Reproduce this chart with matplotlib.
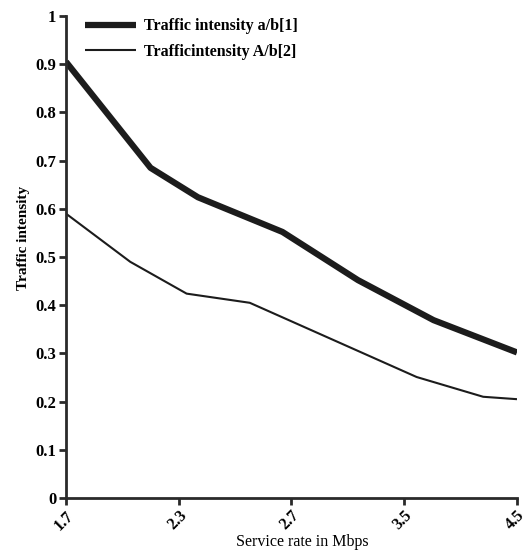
import matplotlib
matplotlib.use("Agg")
import matplotlib.pyplot as plt

plt.rcParams['font.family'] = ['Liberation Serif', 'DejaVu Serif']

# x tick labels sit at equal spacing (category index 0..4)
tick_labels = ["1.7", "2.3", "2.7", "3.5", "4.5"]

# series positions are given in tick-index units
x_ab1 = [0, 0.75, 1.17, 1.92, 2.59, 3.26, 4]
y_ab1 = [0.905, 0.685, 0.624, 0.552, 0.452, 0.369, 0.302]

x_ab2 = [0, 0.57, 1.07, 1.63, 3.11, 3.70, 4]
y_ab2 = [0.59, 0.49, 0.424, 0.405, 0.251, 0.210, 0.205]

fig = plt.figure(figsize=(5.27, 5.54), dpi=100)
ax = fig.add_axes([0.1252, 0.1011, 0.981 - 0.1252, 0.9711 - 0.1011])

ax.plot(x_ab1, y_ab1, color='#1c1c1c', lw=4.5, solid_capstyle='butt',
        label='Traffic intensity a/b[1]')
ax.plot(x_ab2, y_ab2, color='#1c1c1c', lw=1.5, solid_capstyle='butt',
        label='Trafficintensity A/b[2]')

ax.set_xlim(0, 4)
ax.set_ylim(0, 1)
ax.set_xticks(range(len(tick_labels)))
ax.set_xticklabels(tick_labels, rotation=45, ha='right', rotation_mode='anchor',
                   fontsize=11.5, fontweight='bold')
yt = [i / 10 for i in range(11)]
ax.set_yticks(yt)
ax.set_yticklabels(['0'] + ['%.1f' % v for v in yt[1:-1]] + ['1'],
                   fontsize=12, fontweight='bold')

for s in ['top', 'right']:
    ax.spines[s].set_visible(False)
for s in ['left', 'bottom']:
    ax.spines[s].set_linewidth(2.0)
    ax.spines[s].set_color('#2a2a2a')
ax.tick_params(direction='out', length=5, width=2, color='#2a2a2a', pad=2)

ax.set_xlabel('Service rate in Mbps', fontsize=11.5, labelpad=0)
ax.xaxis.set_label_coords(0.525, -0.075)
ax.set_ylabel('Traffic intensity', fontsize=11, fontweight='bold')
ax.yaxis.set_label_coords(-0.08, 0.539)

ax.legend(loc='upper left', bbox_to_anchor=(0.01, 1.025), frameon=False,
          prop={'size': 11.5, 'weight': 'bold'}, handlelength=3.2,
          handletextpad=0.5, labelspacing=0.6)

fig.savefig('out.png', dpi=100)
